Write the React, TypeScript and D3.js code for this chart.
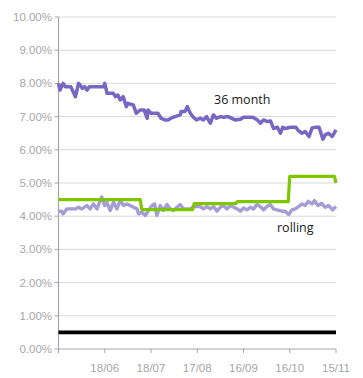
import React from "react";
import * as d3 from "d3";

const W = 363;
const H = 378;

// x axis: day offset from 19/05
const tickDays = [0, 30, 60, 90, 120, 150, 180];
const tickLabels = ["", "18/06", "18/07", "17/08", "16/09", "16/10", "15/11"];
const yTicks = [0, 1, 2, 3, 4, 5, 6, 7, 8, 9, 10];

// 36 month series
const days36 = [0, 1, 2.5, 3, 4.5, 8, 9.5, 11, 13, 14, 15.5, 17, 18.5, 20, 29.5, 30, 31.5, 35.5, 37, 38.5, 40, 42, 44, 45, 48.5, 50.5, 53, 55.5, 57.5,
  58, 60, 64.5, 66.5, 69, 71, 73, 75.5, 79, 79.5, 82, 83.5, 85.5, 87.5, 89.5, 92, 94, 96, 98.5, 100.5, 102.5, 105, 107, 110, 114.5, 118,
  120, 126, 129, 131, 133, 135.5, 137.5, 139.5, 142, 144, 145.5, 147, 150.5, 154, 155.5, 158, 160, 162.5, 164.5, 167, 169, 171.5, 173, 175, 177.5, 180];
const values36 = [8.0, 7.8, 7.95, 8.0, 7.9, 7.9, 7.75, 7.6, 8.0, 7.95, 7.85, 7.9, 7.8, 7.9, 7.9, 8.0, 7.7, 7.7, 7.6, 7.65, 7.5, 7.6, 7.3, 7.4, 7.35, 7.1, 7.2, 7.2, 6.95,
  7.2, 7.1, 7.1, 6.95, 6.9, 6.9, 6.95, 7.0, 7.05, 7.15, 7.15, 7.3, 7.1, 6.98, 6.9, 6.95, 6.9, 7.0, 6.8, 7.05, 6.95, 7.0, 6.98, 7.0, 6.9, 6.92,
  6.98, 6.98, 6.9, 6.8, 6.9, 6.85, 6.87, 6.64, 6.68, 6.5, 6.68, 6.64, 6.68, 6.68, 6.58, 6.5, 6.55, 6.4, 6.66, 6.68, 6.68, 6.32, 6.45, 6.5, 6.4, 6.6];

// rolling series
const daysRolling = [0, 2, 3, 5.5, 11, 13, 15, 18.5, 20.5, 22.7, 25, 28, 30, 31.4, 33.5, 35.7, 37.9, 40, 42.2, 44.4, 46.5, 48.7, 50.9, 52, 54, 56.3, 58.4, 60.6, 62.3, 63.8, 66, 68, 70.3, 72.5, 74.6, 76.8, 79, 81, 85.5, 87.6,
  92, 94, 96.3, 98.4, 100.6, 102.8, 105, 107, 109.3, 111.4, 113.6, 115.8, 118, 120, 122.3, 124.4, 126.5, 128.7, 130.9, 133, 135.2, 137.4, 139.5, 141.7, 145, 147, 149.3, 151.4, 153.6, 155.7, 158, 160, 162, 164.4, 166, 168.3, 170.5, 173, 175.2, 177.8, 180];
const valuesRolling = [4.15, 4.15, 4.07, 4.22, 4.22, 4.27, 4.22, 4.32, 4.22, 4.37, 4.22, 4.58, 4.32, 4.42, 4.17, 4.42, 4.22, 4.47, 4.32, 4.37, 4.32, 4.27, 4.22, 4.07, 4.12, 4.02, 4.17, 4.32, 4.37, 4.02, 4.32, 4.17, 4.35, 4.22, 4.17, 4.27, 4.35, 4.22, 4.22, 4.29,
  4.29, 4.22, 4.29, 4.22, 4.29, 4.15, 4.27, 4.32, 4.22, 4.32, 4.27, 4.22, 4.15, 4.25, 4.19, 4.27, 4.22, 4.35, 4.29, 4.19, 4.29, 4.35, 4.22, 4.19, 4.15, 4.15, 4.05, 4.19, 4.22, 4.29, 4.37, 4.32, 4.45, 4.37, 4.47, 4.32, 4.39, 4.27, 4.32, 4.19, 4.29];

// green benchmark series
const daysGreen = [0, 53, 54, 87, 88, 115, 116, 149, 150, 179, 180];
const valuesGreen = [4.5, 4.5, 4.2, 4.2, 4.38, 4.38, 4.44, 4.44, 5.2, 5.2, 5.0];

// black floor series
const daysBlack = [0, 180];
const valuesBlack = [0.5, 0.5];

const seriesLabels = ["36 month", "rolling"];

export default function App() {
  const x = d3.scaleLinear().domain([0, 180]).range([58.5, 336]);
  const y = d3.scaleLinear().domain([0, 10]).range([349, 17]);
  const line = d3
    .line<[number, number]>()
    .x((d) => x(d[0]))
    .y((d) => y(d[1]));
  const zip = (a: number[], b: number[]) => a.map((v, i) => [v, b[i]] as [number, number]);

  const axisColor = "#a6a6a6";
  const gridColor = "#d9d9d9";
  const font = "'Liberation Sans', Arial, sans-serif";

  return (
    <svg width={W} height={H} style={{ position: "absolute", left: 0, top: 0 }}>
      <rect width={W} height={H} fill="#fff" />
      {yTicks.map((t) => (
        <g key={t}>
          {t > 0 && <line x1={x(0)} x2={x(180)} y1={y(t)} y2={y(t)} stroke={gridColor} strokeWidth={1} />}
          <line x1={x(0) - 4} x2={x(0)} y1={y(t)} y2={y(t)} stroke={axisColor} strokeWidth={1} />
          <text x={52} y={y(t)} dy="0.35em" textAnchor="end" fontFamily={font} fontSize={11.5} fill="#a6a6a6">
            {d3.format(".2f")(t) + "%"}
          </text>
        </g>
      ))}
      <line x1={x(0)} x2={x(0)} y1={y(10)} y2={y(0) + 4} stroke={axisColor} strokeWidth={1.2} />
      <line x1={x(0)} x2={x(180)} y1={y(0)} y2={y(0)} stroke={axisColor} strokeWidth={1.2} />
      {tickDays.map((d, i) => (
        <g key={d}>
          <line x1={x(d)} x2={x(d)} y1={y(0)} y2={y(0) + 4} stroke={axisColor} strokeWidth={1} />
          <text x={x(d)} y={372} textAnchor="middle" fontFamily={font} fontSize={11.5} fill="#a6a6a6">
            {tickLabels[i]}
          </text>
        </g>
      ))}
      <path d={line(zip(daysBlack, valuesBlack)) || ""} fill="none" stroke="#000" strokeWidth={3.8} />
      <path d={line(zip(daysRolling, valuesRolling)) || ""} fill="none" stroke="#a69dd6" strokeWidth={3.4} strokeLinejoin="round" />
      <path d={line(zip(daysGreen, valuesGreen)) || ""} fill="none" stroke="#7dc600" strokeWidth={3.2} strokeLinejoin="round" />
      <path d={line(zip(days36, values36)) || ""} fill="none" stroke="#7766c2" strokeWidth={3.5} strokeLinejoin="round" />
      <text x={214} y={104} fontFamily="'Open Sans', sans-serif" fontSize={12.5} fill="#1a1a1a">
        {seriesLabels[0]}
      </text>
      <text x={277} y={232} fontFamily="'Open Sans', sans-serif" fontSize={12.5} fill="#1a1a1a">
        {seriesLabels[1]}
      </text>
    </svg>
  );
}
